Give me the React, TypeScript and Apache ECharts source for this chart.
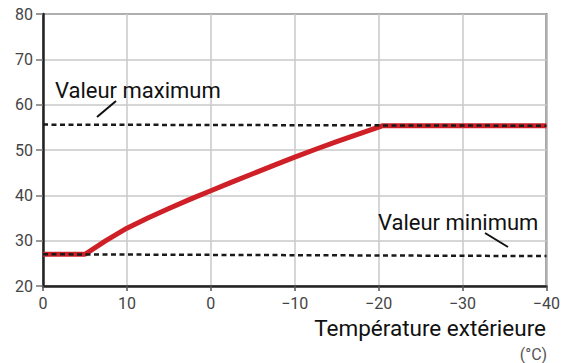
import React, { useEffect, useRef } from "react";
import * as echarts from "echarts";

// Outdoor temperature (°C) on x, supply temperature on y
const curveTemps = [20, 15, 12.5, 10, 7.5, 5, 2.5, 0, -2.5, -5, -7.5, -10, -12.5, -15, -17.5, -20, -20.5, -40];
const curveValues = [27, 27, 30.0, 32.75, 35.0, 37.1, 39.1, 41.0, 42.9, 44.77, 46.62, 48.42, 50.17, 51.85, 53.47, 55.05, 55.35, 55.35];

const maxTemps = [20, -40];
const maxValues = [55.6, 55.35];
const minTemps = [20, -40];
const minValues = [27.0, 26.6];

const xTickValues = [20, 10, 0, -10, -20, -30, -40];
const xTickLabels = ["0", "10", "0", "−10", "−20", "−30", "−40"];
const yTickValues = [20, 30, 40, 50, 60, 70, 80];

const labelMax = "Valeur maximum";
const labelMin = "Valeur minimum";
const axisName = "Température extérieure";
const axisUnit = "(°C)";

const zip = (a: number[], b: number[]) => a.map((v, i) => [v, b[i]]);

export default function App() {
  const ref = useRef<HTMLDivElement>(null);
  useEffect(() => {
    if (!ref.current) return;
    const chart = echarts.init(ref.current, undefined, { renderer: "svg" });
    const font = "Roboto";
    chart.setOption({
      animation: false,
      grid: {
        left: 43,
        right: 16,
        top: 14,
        bottom: 77,
        show: true,
        borderColor: "#666",
        borderWidth: 2,
        containLabel: false,
      },
      xAxis: {
        type: "value",
        min: -40,
        max: 20,
        interval: 10,
        inverse: true,
        axisLine: { show: true, onZero: false, lineStyle: { color: "#222", width: 2.5 } },
        axisTick: { show: true, length: 5, lineStyle: { color: "#555", width: 1.5 } },
        splitLine: { show: true, lineStyle: { color: "#c8c8c8", width: 1.5 } },
        axisLabel: {
          show: true,
          margin: 9,
          fontFamily: font,
          fontSize: 16,
          color: "#444",
          showMinLabel: true,
          showMaxLabel: true,
          formatter: (v: number) => {
            const i = xTickValues.indexOf(v);
            return i >= 0 ? xTickLabels[i] : "";
          },
        },
      },
      yAxis: {
        type: "value",
        min: 20,
        max: 80,
        interval: 10,
        axisLine: { show: true, onZero: false, lineStyle: { color: "#222", width: 2.5 } },
        axisTick: { show: true, length: 7, lineStyle: { color: "#777", width: 1.5 } },
        splitLine: { show: true, lineStyle: { color: "#c8c8c8", width: 1.5 } },
        axisLabel: {
          show: true,
          margin: 10,
          fontFamily: font,
          fontSize: 16,
          color: "#444",
          formatter: (v: number) => (yTickValues.indexOf(v) >= 0 ? String(v) : ""),
        },
      },
      series: [
        {
          type: "line",
          data: zip(curveTemps, curveValues),
          symbol: "none",
          lineStyle: { color: "#cf2028", width: 5, join: "round" },
          z: 2,
        },
        {
          type: "line",
          data: zip(maxTemps, maxValues),
          symbol: "none",
          lineStyle: { color: "#1a1a1a", width: 2.5, type: [5, 3.5] },
          z: 3,
        },
        {
          type: "line",
          data: zip(minTemps, minValues),
          symbol: "none",
          lineStyle: { color: "#1a1a1a", width: 2.5, type: [5, 3.5] },
          z: 3,
        },
      ],
      graphic: [
        {
          type: "text",
          x: 55,
          y: 90.5,
          style: {
            text: labelMax,
            fontFamily: font,
            fontSize: 22,
            fill: "#111",
            verticalAlign: "middle",
            align: "left",
          },
          z: 10,
        },
        {
          type: "line",
          shape: { x1: 97, y1: 117, x2: 116, y2: 101 },
          style: { stroke: "#111", lineWidth: 2 },
          z: 10,
        },
        {
          type: "text",
          x: 378,
          y: 222.5,
          style: {
            text: labelMin,
            fontFamily: font,
            fontSize: 22,
            fill: "#111",
            verticalAlign: "middle",
            align: "left",
          },
          z: 10,
        },
        {
          type: "line",
          shape: { x1: 485, y1: 233, x2: 508, y2: 247 },
          style: { stroke: "#111", lineWidth: 2 },
          z: 10,
        },
        {
          type: "text",
          x: 546,
          y: 328,
          style: {
            text: axisName,
            fontFamily: font,
            fontSize: 22.5,
            fill: "#111",
            verticalAlign: "middle",
            align: "right",
          },
          z: 10,
        },
        {
          type: "text",
          x: 547,
          y: 354,
          style: {
            text: axisUnit,
            fontFamily: font,
            fontSize: 16,
            fill: "#555",
            verticalAlign: "middle",
            align: "right",
          },
          z: 10,
        },
      ],
    });
    return () => chart.dispose();
  }, []);
  return (
    <div
      ref={ref}
      style={{ position: "fixed", left: 0, top: 0, width: 563, height: 363, background: "#fff" }}
    />
  );
}
